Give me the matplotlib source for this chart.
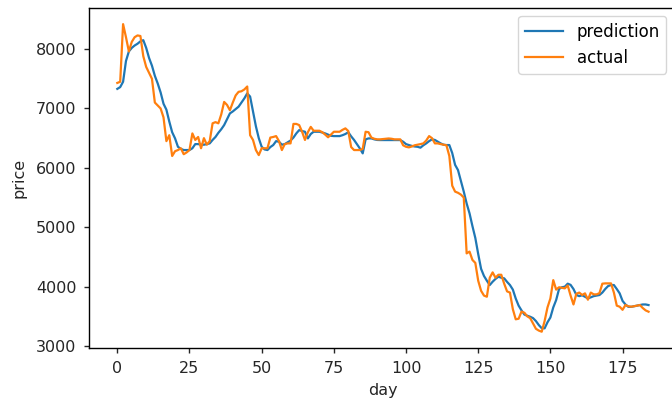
import matplotlib
matplotlib.use("Agg")
import matplotlib.pyplot as plt
import numpy as np

actual = [
    7430, 7450, 8420, 8200, 7960, 8120, 8200, 8230, 8220, 7880,
    7700, 7600, 7500, 7100, 7050, 7000, 6850, 6450, 6550, 6200,
    6280, 6300, 6330, 6230, 6260, 6300, 6580, 6470, 6520, 6330,
    6500, 6390, 6450, 6750, 6770, 6750, 6900, 7110, 7060, 6970,
    7100, 7220, 7280, 7290, 7320, 7370, 6550, 6470, 6300, 6215,
    6330, 6330, 6330, 6510, 6520, 6535, 6450, 6300, 6400, 6412,
    6412, 6740, 6740, 6720, 6608, 6470, 6600, 6690, 6625, 6625,
    6625, 6600, 6560, 6515, 6560, 6608, 6608, 6608, 6640, 6665,
    6620, 6350, 6300, 6300, 6300, 6320, 6608, 6600, 6510, 6490,
    6480, 6480, 6485, 6490, 6495, 6490, 6480, 6480, 6480, 6380,
    6355, 6345, 6360, 6380, 6390, 6400, 6412, 6460, 6535, 6500,
    6412, 6412, 6400, 6390, 6380, 6200, 5700, 5600, 5580, 5550,
    5500, 4560, 4590, 4450, 4400, 4100, 3930, 3850, 3830, 4150,
    4240, 4150, 4200, 4200, 4050, 3920, 3900, 3620, 3450, 3460,
    3580, 3560, 3500, 3470, 3380, 3290, 3260, 3241, 3420, 3650,
    3800, 4110, 3950, 3990, 3980, 3971, 4020, 3850, 3700, 3880,
    3900, 3860, 3887, 3780, 3900, 3870, 3870, 3890, 4050, 4055,
    4055, 4055, 3900, 3680, 3662, 3610, 3690, 3670, 3662, 3670,
    3680, 3690, 3640, 3600, 3578,
]

prediction = [
    7330, 7360, 7450, 7800, 7960, 8020, 8060, 8090, 8130, 8150,
    8020, 7850, 7720, 7550, 7420, 7270, 7080, 6980, 6780, 6600,
    6496, 6355, 6320, 6300, 6300, 6300, 6330, 6400, 6400, 6390,
    6390, 6400, 6412, 6470, 6520, 6590, 6650, 6720, 6820, 6917,
    6950, 6990, 7030, 7100, 7170, 7254, 7200, 6950, 6700, 6500,
    6355, 6310, 6300, 6350, 6384, 6450, 6440, 6390, 6400, 6430,
    6460, 6510, 6580, 6636, 6620, 6608, 6496, 6570, 6608, 6608,
    6608, 6595, 6580, 6560, 6540, 6535, 6535, 6535, 6550, 6570,
    6600, 6530, 6470, 6400, 6328, 6244, 6480, 6496, 6496, 6480,
    6470, 6468, 6468, 6468, 6468, 6468, 6468, 6468, 6468, 6440,
    6400, 6384, 6370, 6360, 6355, 6340, 6380, 6412, 6450, 6480,
    6470, 6440, 6412, 6390, 6384, 6384, 6250, 6050, 5963, 5780,
    5600, 5400, 5234, 5020, 4820, 4550, 4300, 4180, 4100, 4027,
    4083, 4130, 4167, 4150, 4140, 4080, 4027, 3950, 3800, 3680,
    3600, 3530, 3510, 3493, 3470, 3420, 3353, 3300, 3298, 3400,
    3480, 3650, 3774, 3960, 3990, 3999, 4050, 4030, 3960, 3860,
    3840, 3855, 3830, 3803, 3820, 3840, 3850, 3859, 3900, 3960,
    4010, 4027, 4027, 3960, 3887, 3760, 3700, 3660, 3660, 3670,
    3680, 3690, 3700, 3700, 3690,
]

days = np.arange(len(actual))

plt.rcParams['font.family'] = ['DejaVu Sans']
plt.rcParams['font.size'] = 11.5

fig = plt.figure(figsize=(6.72, 3.98), dpi=100)
ax = fig.add_axes([0.1329, 0.1249, 0.873, 0.854])
ax.plot(days, prediction, color='#1f77b4', lw=1.6, label='prediction')
ax.plot(days, actual, color='#ff7f0e', lw=1.6, label='actual')
ax.set_xlim(-9.7, 193.5)
ax.set_ylim(2962, 8685)
ax.set_xticks([0, 25, 50, 75, 100, 125, 150, 175])
ax.set_yticks([3000, 4000, 5000, 6000, 7000, 8000])
ax.tick_params(length=3.6, width=1.0, pad=5.5, colors='#262626', labelcolor='#262626')
for s in ax.spines.values():
    s.set_linewidth(1.0)
ax.set_xlabel('day', color='#262626', labelpad=5)
ax.set_ylabel('price', color='#262626', labelpad=7)
ax.legend(loc='upper right', bbox_to_anchor=(0.9966, 1.0), fontsize=12,
          handlelength=2.3, borderaxespad=0.45)
fig.savefig('out.png', dpi=100)
